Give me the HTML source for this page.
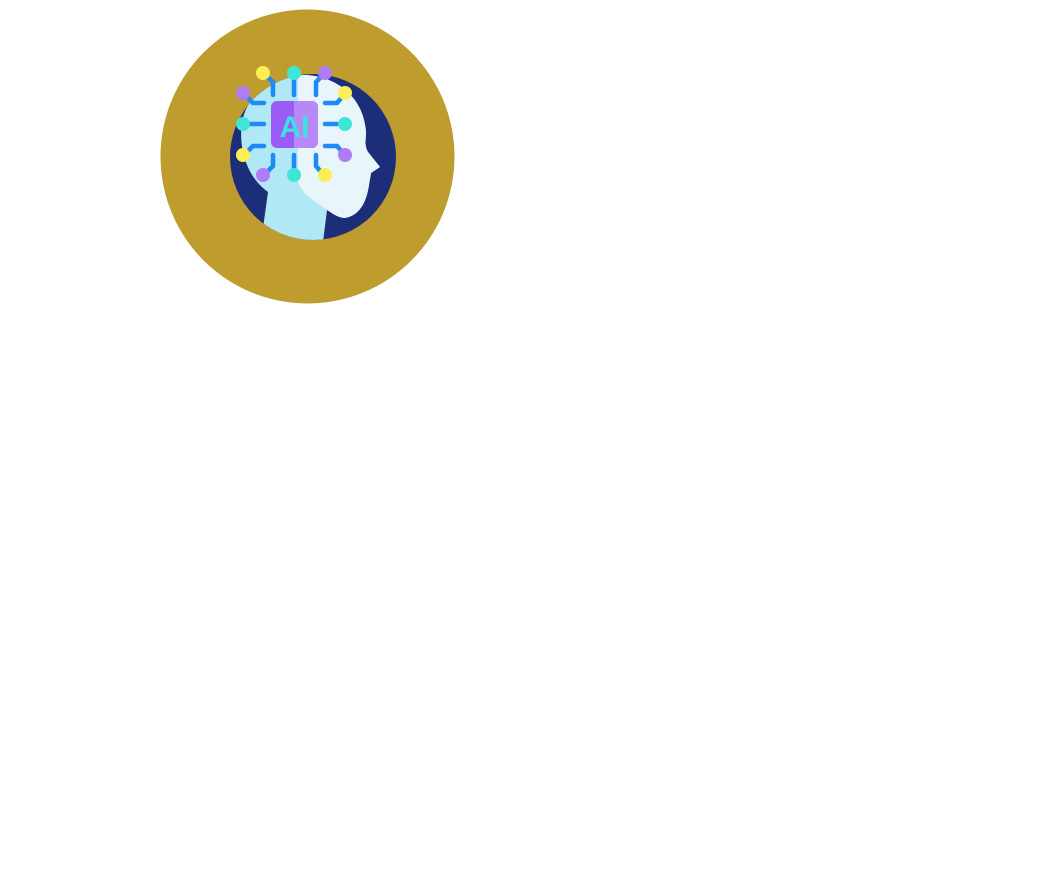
<!DOCTYPE html>
<html><head><meta charset="utf-8"><style>
html,body{margin:0;padding:0;background:#fff;width:1045px;height:875px;overflow:hidden}
</style></head><body>
<svg width="1045" height="875" viewBox="0 0 1045 875" xmlns="http://www.w3.org/2000/svg">
<defs>
<clipPath id="c"><circle cx="313" cy="157" r="83"/></clipPath>
<clipPath id="r"><rect x="298" y="0" width="200" height="400"/></clipPath>
<clipPath id="rc"><rect x="294" y="95" width="40" height="60"/></clipPath>
</defs>
<circle cx="307.5" cy="156.5" r="147" fill="#bf9c2e"/>
<circle cx="313" cy="157" r="83" fill="#1c2e78"/>
<g clip-path="url(#c)">
<path id="head" d="M260,250 L268,192 C248,178 238,150 242,122 C248,92 275,74 306,75 C340,77 364,100 366,132 C366,140 364,145 368,152 L380,167 L371,173 L369,185 C367,198 362,215 345,218 C338,218 332,213 327,210 L322,250 Z" fill="#b0e8f5"/>
<g clip-path="url(#r)">
<path d="M306,75 C340,77 364,100 366,132 C366,140 364,145 368,152 L380,167 L371,173 L369,185 C367,198 362,215 345,218 C338,218 332,213 327,210 L310,198 C300,190 296,180 296,170 L296,76 Z" fill="#e8f6fc"/>
</g>
</g>
<g stroke="#1e8af5" stroke-width="4.5" stroke-linecap="round" fill="none">
<path d="M273,95 V82 L266,76"/><path d="M294,95 V80"/><path d="M316,95 V82 L322,76"/>
<path d="M264,103 H253 L246,96"/><path d="M264,124 H250"/><path d="M264,146 H253 L246,153"/>
<path d="M325,103 H337 L343,96"/><path d="M325,124 H339"/><path d="M325,146 H337 L343,153"/>
<path d="M273,155 V166 L266,173"/><path d="M294,155 V169"/><path d="M316,155 V166 L322,173"/>
</g>
<rect x="271" y="101" width="47" height="47" rx="6" fill="#9b5cf6"/>
<rect x="271" y="101" width="47" height="47" rx="6" fill="#b689f7" clip-path="url(#rc)"/>
<text x="294.5" y="137" text-anchor="middle" font-family="Liberation Sans, sans-serif" font-weight="bold" font-size="30" fill="#3ee0e0">AI</text>
<g>
<circle cx="263" cy="73" r="7" fill="#fdee55"/><circle cx="294" cy="73" r="7" fill="#3ee6d8"/><circle cx="325" cy="73" r="7" fill="#b07cf5"/>
<circle cx="243" cy="93" r="7" fill="#b07cf5"/><circle cx="345" cy="93" r="7" fill="#fdee55"/>
<circle cx="243" cy="124" r="7" fill="#3ee6d8"/><circle cx="345" cy="124" r="7" fill="#3ee6d8"/>
<circle cx="243" cy="155" r="7" fill="#fdee55"/><circle cx="345" cy="155" r="7" fill="#b07cf5"/>
<circle cx="263" cy="175" r="7" fill="#b07cf5"/><circle cx="294" cy="175" r="7" fill="#3ee6d8"/><circle cx="325" cy="175" r="7" fill="#fdee55"/>
</g>
</svg>
</body></html>
